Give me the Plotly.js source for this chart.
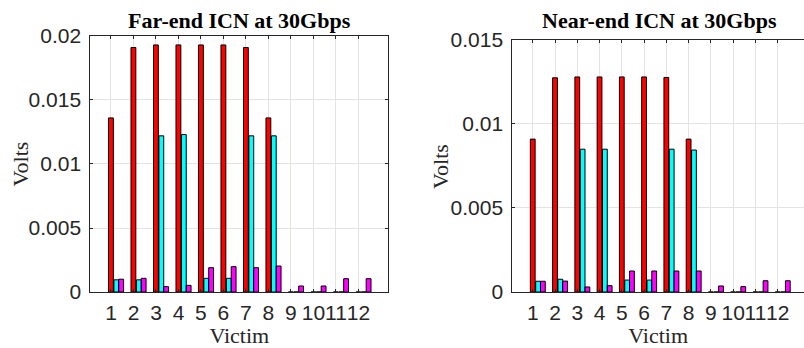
<!DOCTYPE html>
<html>
<head>
<meta charset="utf-8">
<script src="https://cdn.plot.ly/plotly-3.0.1.min.js"></script>
<style>html,body{margin:0;padding:0;background:#fff;}#chart{width:804px;height:348px;}</style>
</head>
<body>
<div id="chart"></div>
<script>
const victims = [1,2,3,4,5,6,7,8,9,10,11,12];
const tickLabels = ['1','2','3','4','5','6','7','8','9','10','11','12'];

// Far-end ICN at 30Gbps
const farRed     = [0.0136,0.0191,0.0193,0.0193,0.0193,0.0193,0.0191,0.0136,0,0,0,0];
const farCyan    = [0.00095,0.00095,0.0122,0.0123,0.00107,0.00107,0.0122,0.0122,0,0,0,0];
const farMagenta = [0.0010,0.00107,0.00042,0.00052,0.0019,0.00198,0.0019,0.00203,0.00047,0.00047,0.00104,0.00104];

// Near-end ICN at 30Gbps
const nearRed     = [0.0091,0.01275,0.0128,0.0128,0.0128,0.0128,0.01277,0.0091,0,0,0,0];
const nearCyan    = [0.00064,0.00076,0.0085,0.0085,0.00071,0.00071,0.0085,0.00845,0,0,0,0];
const nearMagenta = [0.00064,0.00065,0.0003,0.00038,0.00125,0.00125,0.00125,0.00125,0.00036,0.00032,0.00067,0.00067];

const colors = ['#ff0000','#00ffff','#ff00ff'];
const offsets = [-0.11, 0.13, 0.345];
const bw = 0.215;

function bars(ys, xa, ya) {
  return ys.map((y, i) => ({
    type: 'bar', x: victims, y: y, xaxis: xa, yaxis: ya,
    width: bw, offset: offsets[i],
    marker: {color: colors[i], line: {color: '#000000', width: 1}},
    hoverinfo: 'skip', showlegend: false
  }));
}

const data = [].concat(
  bars([farRed, farCyan, farMagenta], 'x', 'y'),
  bars([nearRed, nearCyan, nearMagenta], 'x2', 'y2')
);

const tickFont = {family: 'Liberation Sans, Arial, sans-serif', size: 21, color: '#262626'};
const titleFontAx = {family: 'Liberation Serif, Times New Roman, serif', size: 22, color: '#262626'};
const titleFontMain = {family: 'Liberation Serif, Times New Roman, serif', size: 22, color: '#000000'};

function xAxis(domain, range, anchor) {
  return {
    domain: domain, range: range, anchor: anchor,
    tickmode: 'array', tickvals: victims, ticktext: tickLabels, tickangle: 0,
    ticks: 'inside', ticklen: 3, tickcolor: '#262626',
    showline: true, linecolor: '#262626', linewidth: 1, mirror: 'ticks',
    showgrid: true, gridcolor: '#e3e3e3', gridwidth: 1,
    zeroline: false, tickfont: tickFont, ticklabelstandoff: 2,
    title: {text: 'Victim', font: titleFontAx, standoff: 2}
  };
}
function yAxis(domain, range, anchor, tv, tt, mirror) {
  return {
    domain: domain, range: range, anchor: anchor,
    tickmode: 'array', tickvals: tv, ticktext: tt,
    ticks: 'inside', ticklen: 3, tickcolor: '#262626',
    showline: true, linecolor: '#262626', linewidth: 1, mirror: mirror,
    showgrid: true, gridcolor: '#e3e3e3', gridwidth: 1,
    zeroline: false, tickfont: tickFont, ticklabelstandoff: 4,
    title: {text: ''}
  };
}

const yTicksFar = [0, 0.005, 0.01, 0.015, 0.02];
const yTicksFarLbl = ['0','0.005','0.01','0.015','0.02'];
const yTicksNear = [0, 0.005, 0.01, 0.015];
const yTicksNearLbl = ['0','0.005','0.01','0.015'];

function ann(text, xpx, ypx, font, angle) {
  return {text: text, xref: 'paper', yref: 'paper', x: xpx/804, y: 1 - ypx/348,
    xanchor: 'center', yanchor: 'middle', showarrow: false, textangle: angle || 0, font: font};
}

const layout = {
  width: 804, height: 348,
  margin: {l: 0, r: 0, t: 0, b: 0},
  paper_bgcolor: '#ffffff', plot_bgcolor: '#ffffff',
  barmode: 'overlay',
  xaxis: xAxis([0.1123, 0.4830], [0.08, 13.33], 'y'),
  yaxis: yAxis([0.1609, 0.8966], [0, 0.02], 'x', yTicksFar, yTicksFarLbl, 'ticks'),
  xaxis2: xAxis([0.6372, 1.0], [0.08, 13.18], 'y2'),
  yaxis2: yAxis([0.1609, 0.8851], [0, 0.015], 'x2', yTicksNear, yTicksNearLbl, false),
  annotations: [
    ann('<b>Far-end ICN at 30Gbps</b>', 239.3, 20, titleFontMain),
    ann('<b>Near-end ICN at 30Gbps</b>', 659.5, 20, titleFontMain),
    ann('Volts', 19.5, 164, titleFontAx, -90),
    ann('Volts', 440, 166, titleFontAx, -90)
  ]
};

Plotly.newPlot('chart', data, layout, {staticPlot: true, displayModeBar: false});
</script>
</body>
</html>
